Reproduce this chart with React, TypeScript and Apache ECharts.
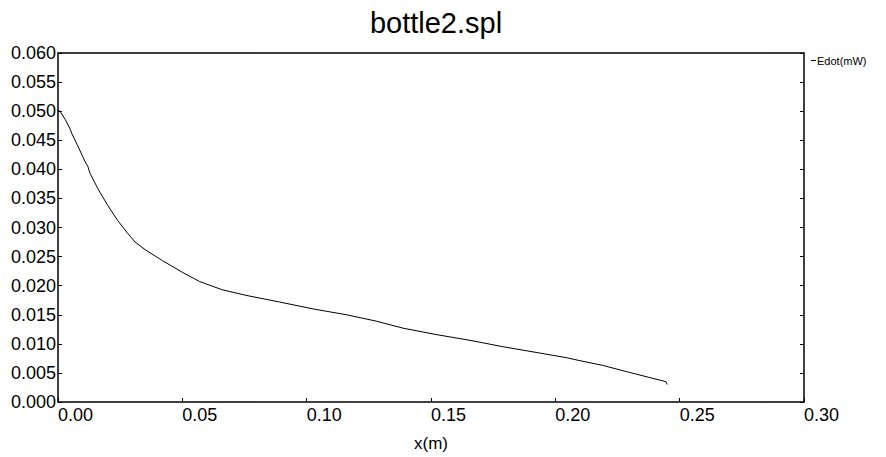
import React, { useEffect, useRef } from "react";
import * as echarts from "echarts";

const titleText = "bottle2.spl";
const seriesName = "Edot(mW)";
const xAxisName = "x(m)";

const xValues = [
  0.0, 0.0008, 0.003, 0.0048, 0.0055, 0.008, 0.0109, 0.012, 0.0129, 0.016, 0.02, 0.024, 0.028, 0.031,
  0.035, 0.042, 0.05, 0.057, 0.066, 0.076, 0.089, 0.1026, 0.116, 0.128, 0.1387, 0.152, 0.1657, 0.179,
  0.1926, 0.2047, 0.2099, 0.219, 0.2288, 0.238, 0.2445, 0.245,
];
const edotValues = [
  0.0502, 0.05, 0.0485, 0.047, 0.0462, 0.044, 0.0413, 0.0405, 0.0393, 0.0367, 0.0338, 0.0312, 0.029,
  0.0275, 0.0262, 0.0243, 0.0223, 0.0207, 0.0193, 0.0183, 0.0172, 0.016, 0.015, 0.0139, 0.0127, 0.0116,
  0.0106, 0.0095, 0.0085, 0.0076, 0.0071, 0.0063, 0.0052, 0.0042, 0.0035, 0.003,
];

const FONT = "'Liberation Sans', Arial, sans-serif";

export default function App() {
  const ref = useRef<HTMLDivElement>(null);
  useEffect(() => {
    document.body.style.margin = "0";
    const chart = echarts.init(ref.current!, undefined, { renderer: "svg" });
    const axisLine = { show: true, onZero: false, lineStyle: { color: "#000", width: 1.5 } };
    chart.setOption({
      animation: false,
      backgroundColor: "#fff",
      title: {
        text: titleText,
        left: 431,
        textAlign: "center",
        top: 3,
        textStyle: { fontFamily: FONT, fontSize: 29, fontWeight: "normal", color: "#000" },
      },
      legend: {
        data: [seriesName],
        left: 806,
        top: 50,
        icon: "rect",
        itemWidth: 5,
        itemHeight: 1,
        textStyle: { fontFamily: FONT, fontSize: 11, color: "#000", padding: [0, 0, 0, -4] },
      },
      grid: { left: 58, right: 82, top: 53, bottom: 51, containLabel: false },
      xAxis: [
        {
          type: "value",
          min: 0,
          max: 0.3,
          interval: 0.05,
          position: "bottom",
          name: xAxisName,
          nameLocation: "middle",
          nameGap: 33,
          nameTextStyle: { fontFamily: FONT, fontSize: 17, color: "#000" },
          axisLine,
          axisTick: { show: true, inside: true, length: 4, lineStyle: { color: "#000" } },
          axisLabel: {
            fontFamily: FONT,
            fontSize: 18,
            color: "#000",
            align: "left",
            margin: 4,
            formatter: (v: number) => v.toFixed(2),
          },
          splitLine: { show: false },
        },
        {
          type: "value",
          min: 0,
          max: 0.3,
          interval: 0.05,
          position: "top",
          axisLine,
          axisTick: { show: false },
          axisLabel: { show: false },
          splitLine: { show: false },
        },
      ],
      yAxis: [
        {
          type: "value",
          min: 0,
          max: 0.06,
          interval: 0.005,
          position: "left",
          axisLine,
          axisTick: { show: true, inside: true, length: 4, lineStyle: { color: "#000" } },
          axisLabel: {
            fontFamily: FONT,
            fontSize: 18,
            color: "#000",
            margin: 2,
            formatter: (v: number) => v.toFixed(3),
          },
          splitLine: { show: false },
        },
        {
          type: "value",
          min: 0,
          max: 0.06,
          interval: 0.005,
          position: "right",
          axisLine,
          axisTick: { show: true, inside: true, length: 4, lineStyle: { color: "#000" } },
          axisLabel: { show: false },
          splitLine: { show: false },
        },
      ],
      series: [
        {
          name: seriesName,
          type: "line",
          data: xValues.map((x, i) => [x, edotValues[i]]),
          showSymbol: false,
          symbol: "none",
          lineStyle: { color: "#000", width: 1 },
          itemStyle: { color: "#000" },
        },
      ],
    });
    return () => chart.dispose();
  }, []);
  return <div ref={ref} style={{ width: 886, height: 457 }} />;
}
